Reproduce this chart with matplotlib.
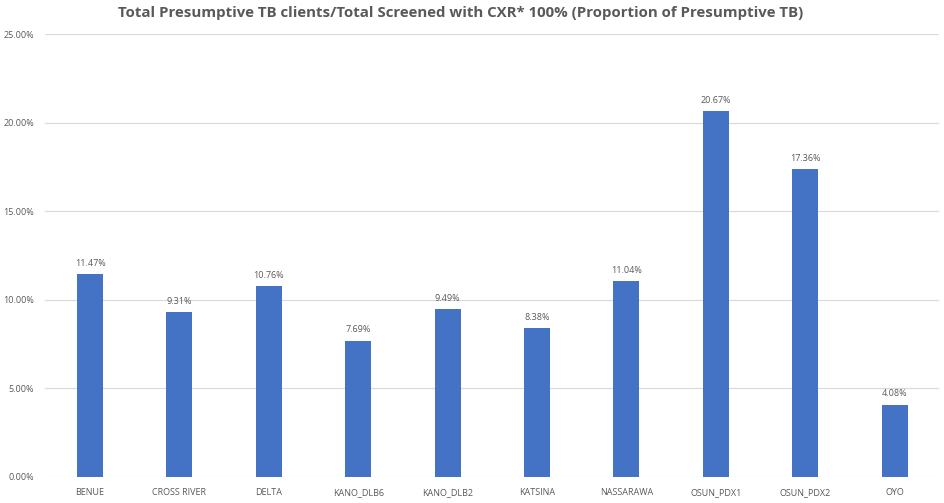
import matplotlib.pyplot as plt
import numpy as np

categories = ["BENUE", "CROSS RIVER", "DELTA", "KANO_DLB6", "KANO_DLB2",
              "KATSINA", "NASSARAWA", "OSUN_PDX1", "OSUN_PDX2", "OYO"]
values = [11.47, 9.31, 10.76, 7.69, 9.49, 8.38, 11.04, 20.67, 17.36, 4.08]
yticks = [0, 5, 10, 15, 20, 25]

plt.rcParams['font.family'] = ['Open Sans', 'DejaVu Sans']
grey = '#595959'

fig = plt.figure(figsize=(9.45, 5.03), dpi=100)
ax = fig.add_axes([0.048, 0.052, 0.946, 0.88])

x = np.arange(len(categories))
bars = ax.bar(x, values, width=0.29, color='#4472C4', zorder=3)
for b, v in zip(bars, values):
    ax.text(b.get_x() + b.get_width() / 2, v + 0.35, f"{v:.2f}%",
            ha='center', va='bottom', fontsize=6.5, color=grey)

ax.set_xlim(-0.5, len(categories) - 0.5)
ax.set_ylim(0, 25)
ax.set_yticks(yticks)
ax.set_yticklabels([f"{t:.2f}%" for t in yticks], fontsize=6.5, color=grey)
ax.set_xticks(x)
ax.set_xticklabels(categories, fontsize=6.5, color=grey)
ax.grid(axis='y', color='#D9D9D9', linewidth=0.8, zorder=0)
ax.tick_params(length=0, pad=8)
for s in ax.spines.values():
    s.set_visible(False)

fig.text(0.487, 0.974, "Total Presumptive TB clients/Total Screened with CXR* 100% (Proportion of Presumptive TB)",
         ha='center', va='center', fontsize=10.8, fontweight='bold', color=grey)

fig.savefig("out.png", dpi=100)
